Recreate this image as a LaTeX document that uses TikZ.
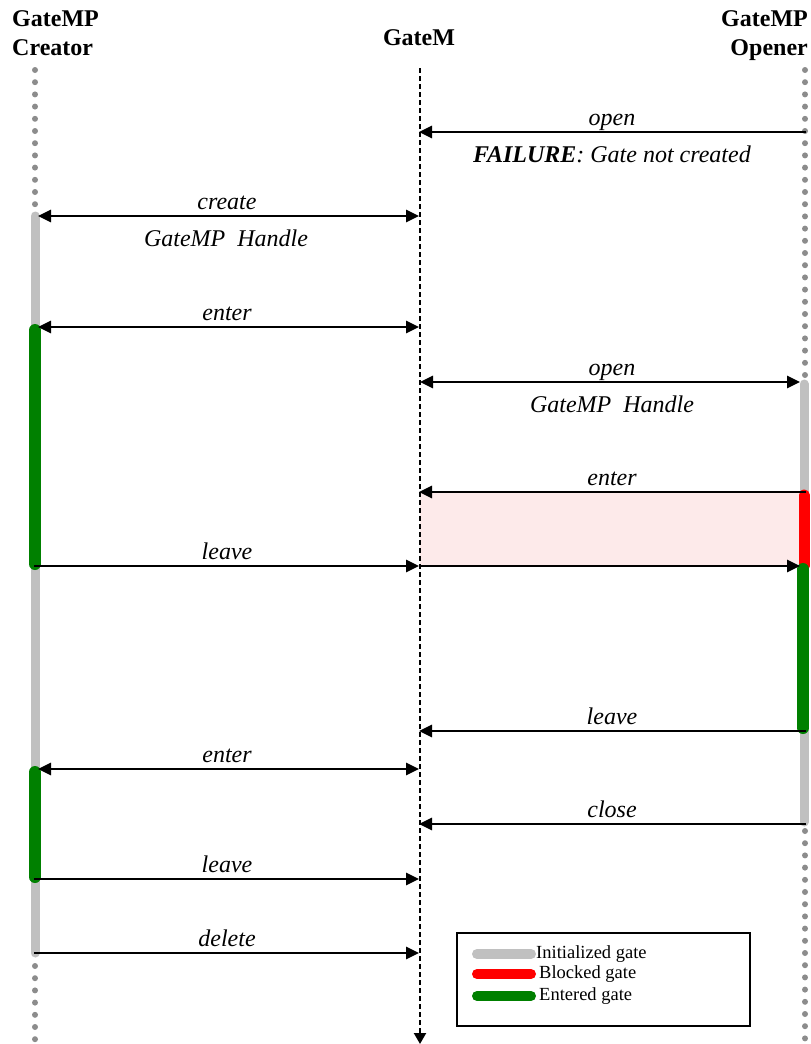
\documentclass[tikz,border=0pt]{standalone}
\usepackage{fontspec}
\setmainfont{Liberation Serif}
\usetikzlibrary{arrows.meta}
\definecolor{dotgray}{RGB}{140,140,140}
\definecolor{initgray}{RGB}{192,192,192}
\definecolor{entgreen}{RGB}{0,128,0}
\definecolor{blkred}{RGB}{255,0,0}
\definecolor{hatchpink}{RGB}{253,234,234}
\tikzset{
  tip/.tip={Triangle[length=13pt,width=12pt]},
  msg/.style={line width=2.8pt,-tip},
  dmsg/.style={line width=2.8pt,tip-tip},
  lbl/.style={font=\fontsize{24}{27}\selectfont\itshape,anchor=base,inner sep=0pt},
  hdr/.style={font=\fontsize{24}{27}\selectfont\bfseries,inner sep=0pt},
  lifedots/.style={draw=dotgray,line width=6pt,line cap=round,dash pattern=on 0pt off 12.2pt},
  gatebar/.style={line width=9pt,line cap=round},
  legtext/.style={font=\fontsize{18.5}{21}\selectfont,anchor=west,inner sep=0pt},
}
\begin{document}
\begin{tikzpicture}[x=1pt,y=-1pt]
\useasboundingbox (0,0) rectangle (811,1044);

% headers
\node[hdr,anchor=base west] (h1a) at (12,27) {GateMP};
\node[hdr,anchor=base west] (h1b) at (12,55) {Creator};
\node[hdr,anchor=base] (h2) at (419,45) {GateM};
\node[hdr,anchor=base east] (h3a) at (808,27) {GateMP};
\node[hdr,anchor=base east] (h3b) at (808,55) {Opener};

% blocked region
\fill[hatchpink] (420,492) rectangle (805,566);

% lifelines
\draw[lifedots] (35,70) -- (35,205);
\draw[lifedots] (35,966) -- (35,1044);
\draw[lifedots] (805,70) -- (805,378);
\draw[lifedots] (805,831) -- (805,1044);
\coordinate (gtop) at (420,68);
\coordinate (gbot) at (420,1044);
\draw[line width=2.2pt,dash pattern=on 5pt off 3pt,-{Triangle[length=11pt,width=12pt]}] (gtop) -- (gbot);

% creator bars
\draw[gatebar,initgray] (35,216) -- (35,953);
\draw[gatebar,entgreen,line width=12pt] (35,330) -- (35,564);
\draw[gatebar,entgreen,line width=12pt] (35,772) -- (35,877);
% opener bars
\draw[gatebar,initgray] (804,384) -- (804,822);
\draw[gatebar,blkred,line width=11pt] (804,495) -- (804,566);
\draw[gatebar,entgreen,line width=12pt] (803,569) -- (803,728);

% message end points
\coordinate (o1) at (806,132); \coordinate (g1) at (419,132);
\coordinate (c2) at (38,216);  \coordinate (g2) at (419,216);
\coordinate (c3) at (38,327);  \coordinate (g3) at (419,327);
\coordinate (g4) at (420,382); \coordinate (o4) at (800,382);
\coordinate (o5) at (806,492); \coordinate (g5) at (419,492);
\coordinate (c6) at (34,566);  \coordinate (g6) at (419,566);
\coordinate (g6b) at (421,566); \coordinate (o6) at (800,566);
\coordinate (o7) at (806,731); \coordinate (g7) at (419,731);
\coordinate (c8) at (38,769);  \coordinate (g8) at (419,769);
\coordinate (o9) at (806,824); \coordinate (g9) at (419,824);
\coordinate (c10) at (34,879); \coordinate (g10) at (419,879);
\coordinate (c11) at (34,953); \coordinate (g11) at (419,953);

% messages
\draw[msg] (o1) -- (g1);
\draw[dmsg] (c2) -- (g2);
\draw[dmsg] (c3) -- (g3);
\draw[dmsg] (g4) -- (o4);
\draw[msg] (o5) -- (g5);
\draw[msg] (c6) -- (g6);
\draw[msg] (g6b) -- (o6);
\draw[msg] (o7) -- (g7);
\draw[dmsg] (c8) -- (g8);
\draw[msg] (o9) -- (g9);
\draw[msg] (c10) -- (g10);
\draw[msg] (c11) -- (g11);

% labels
\node[lbl] (l1) at (612,125) {open};
\node[lbl] (l1b) at (612,162) {\textbf{FAILURE}: Gate not created};
\node[lbl] (l2) at (227,209) {create};
\node[lbl] (l2b) at (226,246) {GateMP~~Handle};
\node[lbl] (l3) at (227,320) {enter};
\node[lbl] (l4) at (612,375) {open};
\node[lbl] (l4b) at (612,412) {GateMP~~Handle};
\node[lbl] (l5) at (612,485) {enter};
\node[lbl] (l6) at (227,559) {leave};
\node[lbl] (l7) at (612,724) {leave};
\node[lbl] (l8) at (227,762) {enter};
\node[lbl] (l9) at (612,817) {close};
\node[lbl] (l10) at (227,872) {leave};
\node[lbl] (l11) at (227,946) {delete};

% legend
\node[draw,line width=1.8pt,minimum width=293pt,minimum height=93pt,inner sep=0pt] (legend) at (603.5,979.5) {};
\draw[gatebar,initgray,line width=10pt] (477,954) -- (531,954);
\draw[gatebar,blkred,line width=10pt] (477,974) -- (531,974);
\draw[gatebar,entgreen,line width=10pt] (477,996) -- (531,996);
\node[legtext] (t1) at (536,954) {Initialized gate};
\node[legtext] (t2) at (539,974) {Blocked gate};
\node[legtext] (t3) at (539,996) {Entered gate};
\end{tikzpicture}
\end{document}
